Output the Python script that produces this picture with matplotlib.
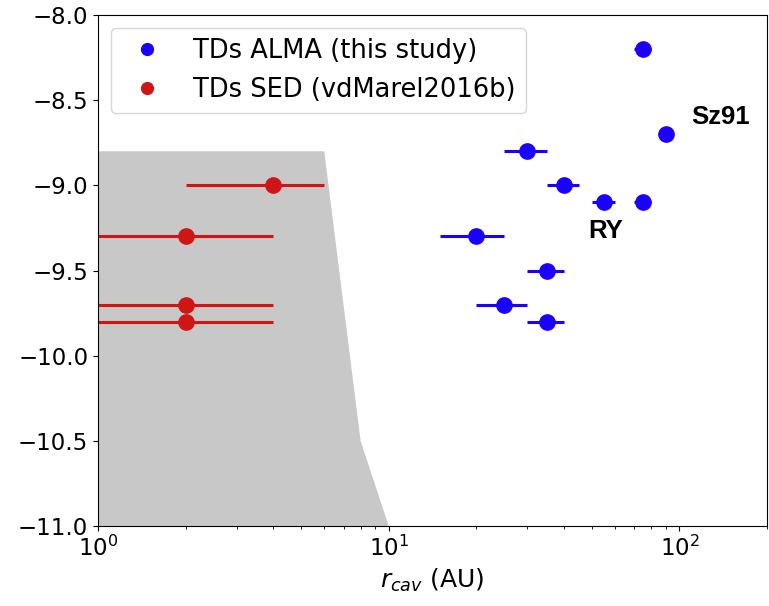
import numpy as np
import matplotlib.pyplot as plt
from matplotlib.patches import Polygon
from matplotlib.lines import Line2D

# ALMA transition disks (this study)
alma_rcav = [75, 90, 30, 40, 55, 75, 20, 35, 25, 35]
alma_mdot = [-8.2, -8.7, -8.8, -9.0, -9.1, -9.1, -9.3, -9.5, -9.7, -9.8]
alma_err = [5, 5, 5, 5, 5, 5, 5, 5, 5, 5]

# SED-based transition disks (vdMarel2016b)
sed_rcav = [4, 2, 2, 2]
sed_mdot = [-9.0, -9.3, -9.7, -9.8]
sed_err = [2, 2, 2, 2]

# excluded region
region_x = [1, 6, 8, 10, 1]
region_y = [-8.8, -8.8, -10.5, -11.0, -11.0]

blue = '#1a00ff'
red = '#d01515'

plt.rcParams['font.size'] = 16.5

fig, ax = plt.subplots(figsize=(7.69, 6.06), dpi=100)
fig.subplots_adjust(left=98/769, right=767/769, top=1-15/606, bottom=1-526/606)

ax.add_patch(Polygon(np.column_stack([region_x, region_y]), closed=True,
                     facecolor='#c8c8c8', edgecolor='none', zorder=0))

ax.errorbar(alma_rcav, alma_mdot, xerr=alma_err, fmt='o', color=blue,
            ms=11, elinewidth=2.2)
ax.errorbar(sed_rcav, sed_mdot, xerr=sed_err, fmt='o', color=red,
            ms=11, elinewidth=2.2)

ax.text(110, -8.6, 'Sz91', fontsize=18.5, fontweight='bold',
        family='Liberation Sans', ha='left', va='center')
ax.text(48.6, -9.27, 'RY', fontsize=18.5, fontweight='bold',
        family='Liberation Sans', ha='left', va='center')

ax.set_xscale('log')
ax.set_xlim(1, 200)
ax.set_ylim(-11, -8)
ax.set_yticks(np.arange(-11, -7.9, 0.5))
ax.set_xlabel(r'$r_{cav}$ (AU)', fontsize=18)

# legend shows the markers only
handles = [Line2D([], [], ls='none', marker='o', color=blue, ms=8.5),
           Line2D([], [], ls='none', marker='o', color=red, ms=8.5)]
ax.legend(handles, ['TDs ALMA (this study)', 'TDs SED (vdMarel2016b)'],
          loc='upper left', fontsize=18.5)

plt.savefig('out.png', dpi=100)
